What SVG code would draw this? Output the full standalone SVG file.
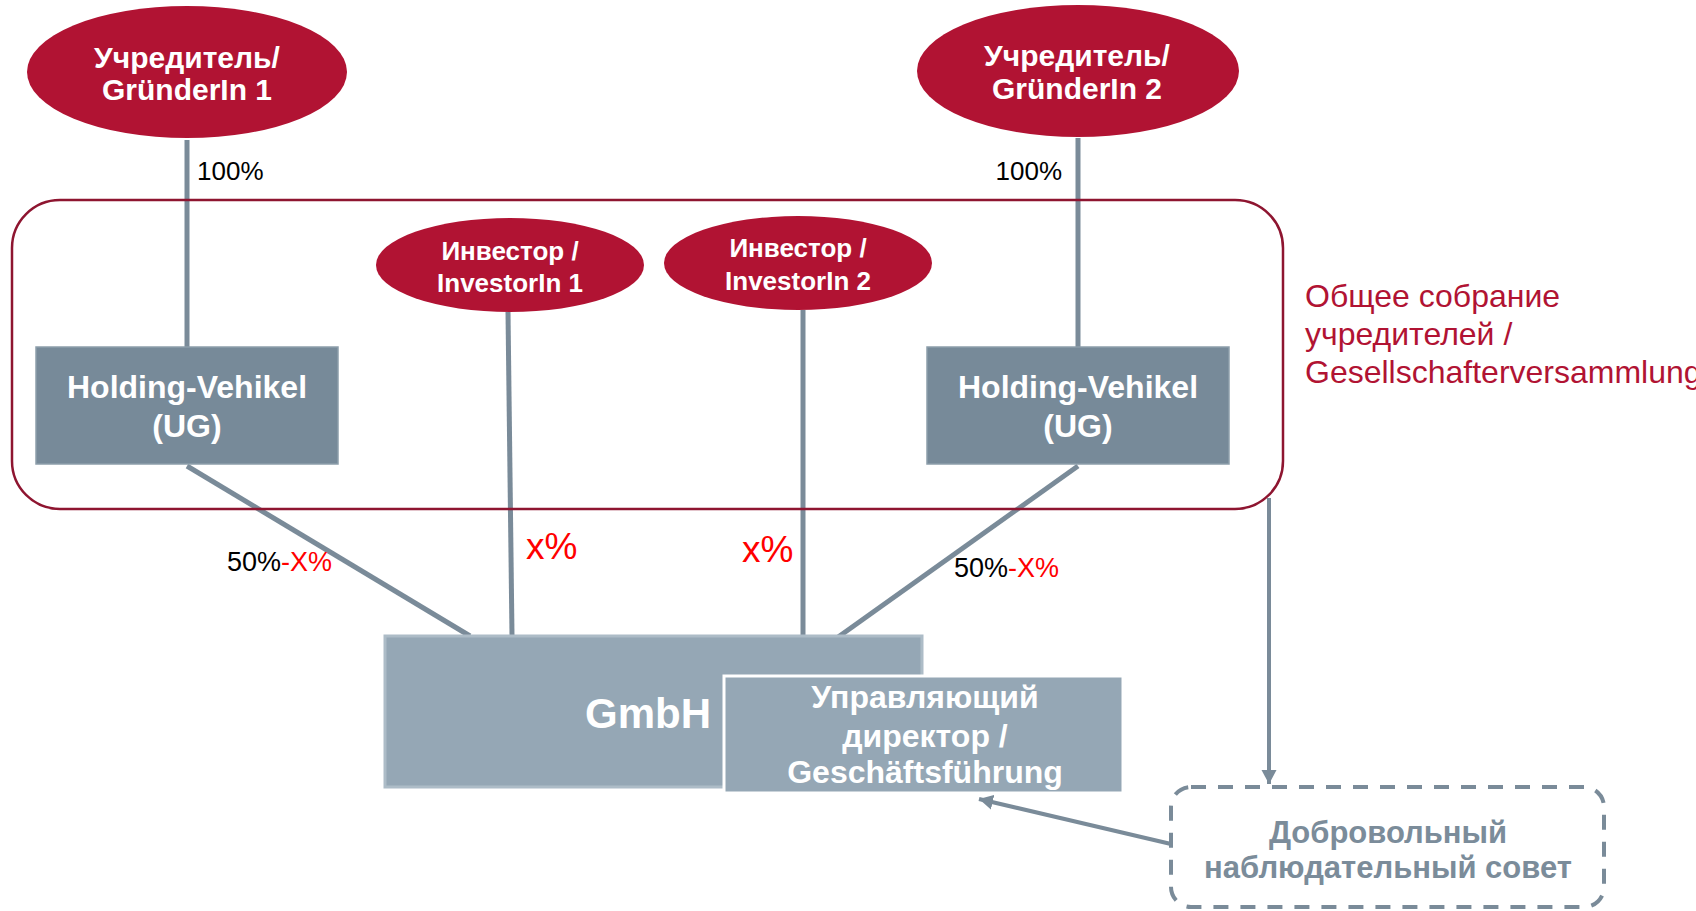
<svg xmlns="http://www.w3.org/2000/svg" width="1696" height="911" viewBox="0 0 1696 911">
<style>
text{font-family:"Liberation Sans",Arial,sans-serif}
.ell{fill:#b11333}
.wt{fill:#fff;font-weight:bold;text-anchor:middle}
.hold{fill:#778a99;stroke:#8d9eab;stroke-width:1.5}
.con{stroke:#7a8b99;stroke-width:5;fill:none}
.arr{stroke:#7a8b99;stroke-width:4;fill:none}
.pct{font-size:26px;fill:#000}
.red{fill:#ff0000}
</style>
<defs>
<marker id="ah" markerUnits="userSpaceOnUse" markerWidth="16" markerHeight="16" refX="14" refY="8" orient="auto">
<path d="M0,0.5 L14,8 L0,15.5 z" fill="#7a8b99"/>
</marker>
</defs>
<rect width="1696" height="911" fill="#fff"/>
<g id="connectors">
<line class="con" x1="187" y1="140" x2="187" y2="347"/>
<line class="con" x1="1078" y1="138" x2="1078" y2="347"/>
<line class="con" x1="508" y1="312" x2="512" y2="636"/>
<line class="con" x1="803" y1="310" x2="803" y2="636"/>
<line class="con" x1="187" y1="466" x2="470" y2="636"/>
<line class="con" x1="1078" y1="466" x2="834" y2="640"/>
<line class="arr" x1="1269" y1="498" x2="1269" y2="784" marker-end="url(#ah)"/>
<line class="arr" x1="1171" y1="844" x2="979" y2="799" marker-end="url(#ah)"/>
</g>
<g id="labels">
<text class="pct" x="197" y="180" font-size="26">100%</text>
<text class="pct" x="1062" y="180" text-anchor="end">100%</text>
<text class="pct" x="227" y="571" style="font-size:27px">50%<tspan class="red">-X%</tspan></text>
<text class="pct" x="954" y="577" style="font-size:27px">50%<tspan class="red">-X%</tspan></text>
<text class="red" x="526" y="559" font-size="37">x%</text>
<text class="red" x="742" y="562" font-size="37">x%</text>
</g>
<g id="gesellschafterversammlung">
<rect x="12" y="200" width="1271" height="309" rx="48" ry="48" fill="none" stroke="#8e1530" stroke-width="2.5"/>
<text x="1305" y="307" font-size="32" fill="#b11333">Общее собрание</text>
<text x="1305" y="345" font-size="32" fill="#b11333">учредителей /</text>
<text x="1305" y="383" font-size="32" fill="#b11333">Gesellschafterversammlung</text>
</g>
<g id="gruender1">
<ellipse class="ell" cx="187" cy="72" rx="160" ry="66"/>
<text class="wt" x="187" y="68" font-size="30">Учредитель/</text>
<text class="wt" x="187" y="100" font-size="30">GründerIn 1</text>
</g>
<g id="gruender2">
<ellipse class="ell" cx="1078" cy="71" rx="161" ry="66"/>
<text class="wt" x="1077" y="66" font-size="30">Учредитель/</text>
<text class="wt" x="1077" y="99" font-size="30">GründerIn 2</text>
</g>
<g id="investor1">
<ellipse class="ell" cx="510" cy="265" rx="134" ry="47"/>
<text class="wt" x="510" y="260" font-size="26">Инвестор /</text>
<text class="wt" x="510" y="292" font-size="26">InvestorIn 1</text>
</g>
<g id="investor2">
<ellipse class="ell" cx="798" cy="263" rx="134" ry="47"/>
<text class="wt" x="798" y="257" font-size="26">Инвестор /</text>
<text class="wt" x="798" y="290" font-size="26">InvestorIn 2</text>
</g>
<g id="holding1">
<rect class="hold" x="36" y="347" width="302" height="117"/>
<text class="wt" x="187" y="398" font-size="32">Holding-Vehikel</text>
<text class="wt" x="187" y="437" font-size="32">(UG)</text>
</g>
<g id="holding2">
<rect class="hold" x="927" y="347" width="302" height="117"/>
<text class="wt" x="1078" y="398" font-size="32">Holding-Vehikel</text>
<text class="wt" x="1078" y="437" font-size="32">(UG)</text>
</g>
<g id="gmbh">
<rect x="385" y="636" width="537" height="151" fill="#95a7b5" stroke="#adbcc7" stroke-width="3"/>
<text x="711" y="728" font-size="42" fill="#fff" font-weight="bold" text-anchor="end">GmbH</text>
</g>
<g id="geschaeftsfuehrung">
<rect x="724" y="676" width="399" height="117" fill="#95a7b5" stroke="#fff" stroke-width="3"/>
<text class="wt" x="925" y="708" font-size="32">Управляющий</text>
<text class="wt" x="925" y="747" font-size="32">директор /</text>
<text class="wt" x="925" y="783" font-size="32">Geschäftsführung</text>
</g>
<g id="aufsichtsrat">
<rect x="1171" y="787" width="433" height="120" rx="20" ry="20" fill="none" stroke="#7a8b99" stroke-width="4" stroke-dasharray="15 12"/>
<text x="1388" y="843" font-size="31" fill="#7b8c9a" font-weight="bold" text-anchor="middle">Добровольный</text>
<text x="1388" y="878" font-size="31" fill="#7b8c9a" font-weight="bold" text-anchor="middle">наблюдательный совет</text>
</g>
</svg>
